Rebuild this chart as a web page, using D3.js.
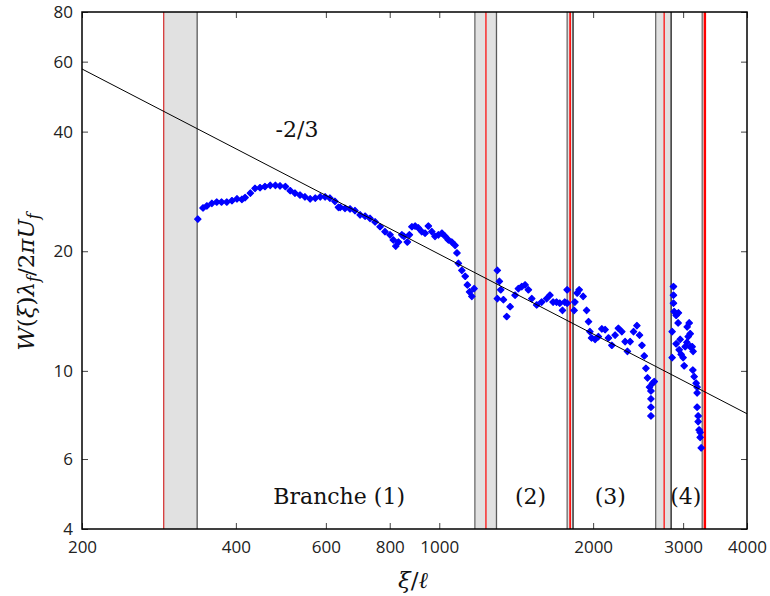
<!DOCTYPE html>
<html>
<head>
<meta charset="utf-8">
<script src="https://cdn.jsdelivr.net/npm/d3@7"></script>
<style>
  html, body { margin: 0; padding: 0; background: #fff; }
  svg { display: block; }
</style>
</head>
<body>
<svg id="chart" width="770" height="596"></svg>
<script>
// ---------------- data ----------------
const xTicks = [200, 400, 600, 800, 1000, 2000, 3000, 4000];
const yTicks = [4, 6, 10, 20, 40, 60, 80];

// measured W(xi) per branch
const branch1X = [337,345,351,359,367,375,384,393,402,411,417,427,436,446,456,467,478,488,500,511,522,534,546,559,572,585,598,611,625,635,
  640,654,669,684,700,716,732,749,766,783,801,813,822,832,845,853,866,874,884,897,910,924,938,952,967,981,996,1012,1027,1042,1058,1074,1083,1090,1107,1124,1135,1146,1158,1170];
const branch1Y = [24.1,25.7,26.0,26.4,26.6,26.6,26.6,26.8,27.1,27.0,27.3,28.0,28.8,28.9,29.1,29.3,29.3,29.2,29.1,28.4,28.0,27.7,27.4,27.1,27.2,27.4,27.4,27.2,26.7,25.8,
  25.8,25.65,25.55,25.3,24.7,24.5,24.2,23.7,23.05,22.4,22.0,21.35,20.6,21.1,22.0,21.8,21.1,22.0,23.05,23.15,22.9,22.4,22.2,23.15,22.4,21.8,22.0,22.2,21.8,21.35,21.1,20.7,19.8,18.65,17.9,17.3,16.45,15.8,15.4,16.1];

const branch2X = [1299,1299,1311,1319,1335,1355,1376,1407,1428,1450,1472,1494,1517,1551,1586,1622,1646,1670,1696,1721,1742,1760,1779,1779];
const branch2Y = [17.9,15.2,16.8,16.0,15.1,13.7,14.5,15.5,16.1,16.3,16.45,16.0,15.2,14.65,14.9,15.2,15.5,14.9,14.9,14.8,14.2,14.9,16.0,14.8];

const branch3X = [1836,1842,1861,1878,1912,1942,1959,1971,1986,2018,2048,2080,2111,2143,2176,2208,2241,2276,2310,2334,2363,2399,2436,2465,2492,2518,2537,2555,2578,2595,2613,2634,2595,2595,2595];
const branch3Y = [14.2,14.9,15.7,16.0,15.4,14.2,13.3,12.55,12.1,12.0,12.2,12.75,12.7,12.1,11.6,12.3,12.8,12.55,11.85,11.2,11.85,12.55,13.0,12.3,11.6,10.9,10.15,9.6,9.1,8.9,9.3,9.4,8.5,8.1,7.7];

const branch4X = [2872,2872,2872,2881,2907,2937,2933,2855,2855,2907,2947,2973,3000,3014,2960,3069,3055,3083,3097,3051,3028,3097,3138,3124,3134,3153,3181,3195,3195,3195,3210,3210,3224,3239,3239,3254];
const branch4Y = [16.3,15.5,14.8,14.1,13.8,14.0,13.2,12.55,10.8,11.7,11.3,11.0,10.8,10.3,12.0,12.2,12.9,13.2,12.4,11.8,11.5,11.5,11.2,11.5,10.05,9.67,9.31,9.1,8.8,8.1,7.7,7.45,7.1,7.0,6.8,6.4];

// transition zones (grey) and red markers
const bandStart = [289, 1174, 1779, 2651, 3269];
const bandEnd   = [336, 1294, 1827, 2842, 3309];
const redLines  = [289, 1234, 1803, 2754, 3309];

// -2/3 power law reference line
const fitX = [200, 4000];
const fitY = [57.5, 7.8];

const regionLabels = ["Branche (1)", "(2)", "(3)", "(4)"];
const regionLabelX = [637, 1509, 2160, 3037];

// ---------------- layout ----------------
const svg = d3.select("#chart");
const L = 82, R = 747, T = 12, B = 529;
const x = d3.scaleLog().domain([200, 4000]).range([L, R]);
const y = d3.scaleLog().domain([4, 80]).range([B, T]);

const sansFont = "'Open Sans', 'Noto Sans', sans-serif";
const serifFont = "'DejaVu Serif', 'Liberation Serif', serif";

// bands
const bands = bandStart.map((s, i) => ({s, e: bandEnd[i]}));
svg.append("g").selectAll("rect").data(bands).join("rect")
  .attr("x", d => x(d.s)).attr("y", T)
  .attr("width", d => x(d.e) - x(d.s)).attr("height", B - T)
  .attr("fill", "#e1e1e1");
const borders = [];
bands.forEach((d, i) => {
  if (i > 0) borders.push({v: d.s, c: "#6a6a6a"});
  borders.push({v: d.e, c: i >= 2 ? "#1a1a1a" : "#5a5a5a"});
});
svg.append("g").selectAll("line").data(borders).join("line")
  .attr("x1", d => x(d.v)).attr("x2", d => x(d.v))
  .attr("y1", T).attr("y2", B)
  .attr("stroke", d => d.c).attr("stroke-width", 1.3);
svg.append("g").selectAll("line").data(redLines).join("line")
  .attr("x1", d => x(d)).attr("x2", d => x(d))
  .attr("y1", T).attr("y2", B)
  .attr("stroke", (d, i) => i === 0 ? "#d42a2a" : "#ff0000")
  .attr("stroke-width", (d, i) => i === 4 ? 2.4 : (i === 2 ? 1.6 : 1.2));

// data points
const pts = [];
[[branch1X, branch1Y], [branch2X, branch2Y], [branch3X, branch3Y], [branch4X, branch4Y]]
  .forEach(([xs, ys]) => xs.forEach((v, i) => pts.push([v, ys[i]])));
const r = 3.2;
svg.append("g").selectAll("path").data(pts).join("path")
  .attr("transform", d => `translate(${x(d[0])},${y(d[1])})`)
  .attr("d", `M0,${-r}L${r},0L0,${r}L${-r},0Z`)
  .attr("fill", "#0000ff").attr("stroke", "#0000ff").attr("stroke-width", 1.2)
  .attr("stroke-linejoin", "round");

// fit line
svg.append("line")
  .attr("x1", x(fitX[0])).attr("y1", y(fitY[0]))
  .attr("x2", x(fitX[1])).attr("y2", y(fitY[1]))
  .attr("stroke", "#000").attr("stroke-width", 1);

// axes
const tickColor = "#444";
function styleAxis(g, showText) {
  g.select(".domain").remove();
  g.selectAll(".tick line").attr("stroke", tickColor).attr("stroke-width", 1);
  g.selectAll(".tick text").attr("font-family", sansFont).attr("font-size", 17)
    .attr("fill", "#222").style("display", showText ? null : "none");
}
svg.append("g").attr("transform", `translate(0,${B})`)
  .call(d3.axisBottom(x).tickValues(xTicks).tickFormat(d3.format("d")).tickSizeInner(-6).tickSizeOuter(0).tickPadding(12))
  .call(g => styleAxis(g, true));
svg.append("g").attr("transform", `translate(0,${T})`)
  .call(d3.axisTop(x).tickValues(xTicks).tickSizeInner(-6).tickSizeOuter(0))
  .call(g => styleAxis(g, false));
svg.append("g").attr("transform", `translate(${L},0)`)
  .call(d3.axisLeft(y).tickValues(yTicks).tickFormat(d3.format("d")).tickSizeInner(-6).tickSizeOuter(0).tickPadding(9))
  .call(g => styleAxis(g, true));
svg.append("g").attr("transform", `translate(${R},0)`)
  .call(d3.axisRight(y).tickValues(yTicks).tickSizeInner(-6).tickSizeOuter(0))
  .call(g => styleAxis(g, false));

// frame
svg.append("rect").attr("x", L).attr("y", T).attr("width", R - L).attr("height", B - T)
  .attr("fill", "none").attr("stroke", "#000").attr("stroke-width", 1.5);

// region labels
svg.append("g").selectAll("text").data(regionLabels).join("text")
  .attr("x", (d, i) => x(regionLabelX[i])).attr("y", 504)
  .attr("text-anchor", "middle")
  .attr("font-family", serifFont).attr("font-size", 22).attr("fill", "#111")
  .text(d => d);

// slope label
svg.append("text").attr("x", 297).attr("y", 136.5).attr("text-anchor", "middle")
  .attr("font-family", serifFont).attr("font-size", 22).attr("fill", "#111")
  .text("-2/3");

// x axis title
const xt = svg.append("text").attr("x", 413).attr("y", 588).attr("text-anchor", "middle")
  .attr("font-family", serifFont).attr("font-size", 23).attr("fill", "#111");
xt.append("tspan").attr("font-style", "italic").text("ξ");
xt.append("tspan").text("/");
xt.append("tspan").attr("font-style", "italic").text("ℓ");

// y axis title
const yt = svg.append("text").attr("transform", "translate(34,282) rotate(-90)")
  .attr("text-anchor", "middle")
  .attr("font-family", serifFont).attr("font-size", 23).attr("fill", "#111");
yt.append("tspan").attr("font-style", "italic").text("W");
yt.append("tspan").text("(");
yt.append("tspan").attr("font-style", "italic").text("ξ");
yt.append("tspan").text(")");
yt.append("tspan").attr("font-style", "italic").text("λ");
yt.append("tspan").attr("font-style", "italic").attr("font-size", 16).attr("dy", 5).text("f");
yt.append("tspan").attr("dy", -5).text("/2");
yt.append("tspan").attr("font-style", "italic").text("πU");
yt.append("tspan").attr("font-style", "italic").attr("font-size", 16).attr("dy", 5).text("f");
</script>
</body>
</html>
